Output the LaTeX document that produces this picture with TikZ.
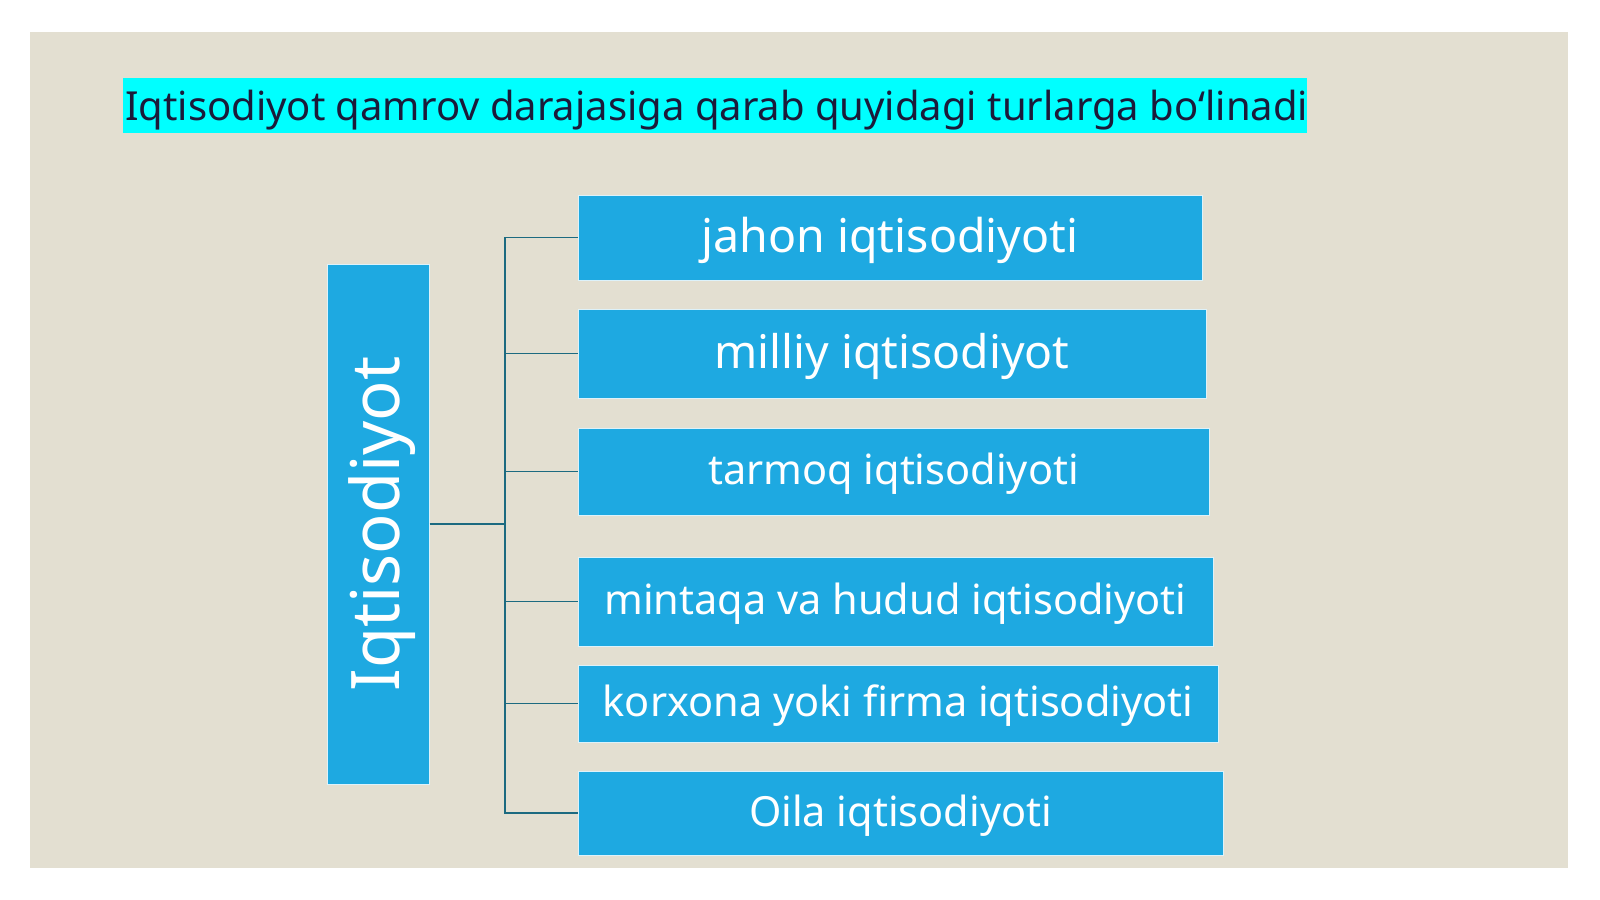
\documentclass[tikz,border=0pt]{standalone}
\usepackage{fontspec}
\setmainfont{Noto Sans}
\definecolor{beige}{HTML}{E3DFD1}
\definecolor{boxblue}{HTML}{1EA9E1}
\definecolor{conncol}{HTML}{1C6A80}
\definecolor{titlecol}{HTML}{1B1B3A}
\definecolor{hl}{HTML}{00FFFF}
\newcommand{\boxtext}[2]{\rule[-0.4em]{0pt}{1.3em}\raisebox{#1}{#2}}
\tikzset{
  itembox/.style={rectangle, fill=boxblue, draw=white!85!boxblue, line width=1pt, inner sep=0pt, text=white, align=center},
  conn/.style={draw=conncol, line width=1.3pt},
}
\begin{document}
\begin{tikzpicture}[x=1pt,y=-1pt]
\useasboundingbox (0,0) rectangle (1600,899);
\fill[white] (0,0) rectangle (1600,899);
\fill[beige] (30,32) rectangle (1568,868);
% title
\fill[hl] (123,78) rectangle (1307,133);
\node[anchor=base west, inner sep=0pt, text=titlecol, font=\fontsize{40}{48}\selectfont] (title) at (125,120) {Iqtisodiyot qamrov darajasiga qarab quyidagi turlarga bo‘linadi};
% left box
\node[itembox, minimum width=520pt, minimum height=102pt, rotate=90, font=\fontsize{67}{80}\selectfont] (L) at (378,524) {\boxtext{-5pt}{Iqtisodiyot}};
% right boxes
\node[itembox, minimum width=624pt, minimum height=85pt, font=\fontsize{46.5}{56}\selectfont] (b1) at (890,237.5) {\boxtext{-3pt}{jahon iqtisodiyoti}};
\node[itembox, minimum width=628pt, minimum height=89pt, font=\fontsize{46.3}{56}\selectfont] (b2) at (892,353.5) {\boxtext{-3pt}{milliy iqtisodiyot}};
\node[itembox, minimum width=631pt, minimum height=87pt, font=\fontsize{41.5}{50}\selectfont] (b3) at (893.5,471.5) {\boxtext{-3pt}{tarmoq iqtisodiyoti}};
\node[itembox, minimum width=635pt, minimum height=89pt, font=\fontsize{41.5}{50}\selectfont] (b4) at (895.5,601.5) {\boxtext{-3pt}{mintaqa va hudud iqtisodiyoti}};
\node[itembox, minimum width=640pt, minimum height=77pt, font=\fontsize{41.5}{50}\selectfont] (b5) at (898,703.5) {\boxtext{-3pt}{korxona yoki firma iqtisodiyoti}};
\node[itembox, minimum width=645pt, minimum height=84pt, font=\fontsize{41.5}{50}\selectfont] (b6) at (900.5,813) {\boxtext{-3pt}{Oila iqtisodiyoti}};
% connectors
\coordinate (T) at (505,524);
\draw[conn] (L.south) -- (T);
\foreach \b in {b1,b2,b3,b4,b5,b6} {
  \draw[conn] (T) |- (\b.west);
}
\end{tikzpicture}
\end{document}
